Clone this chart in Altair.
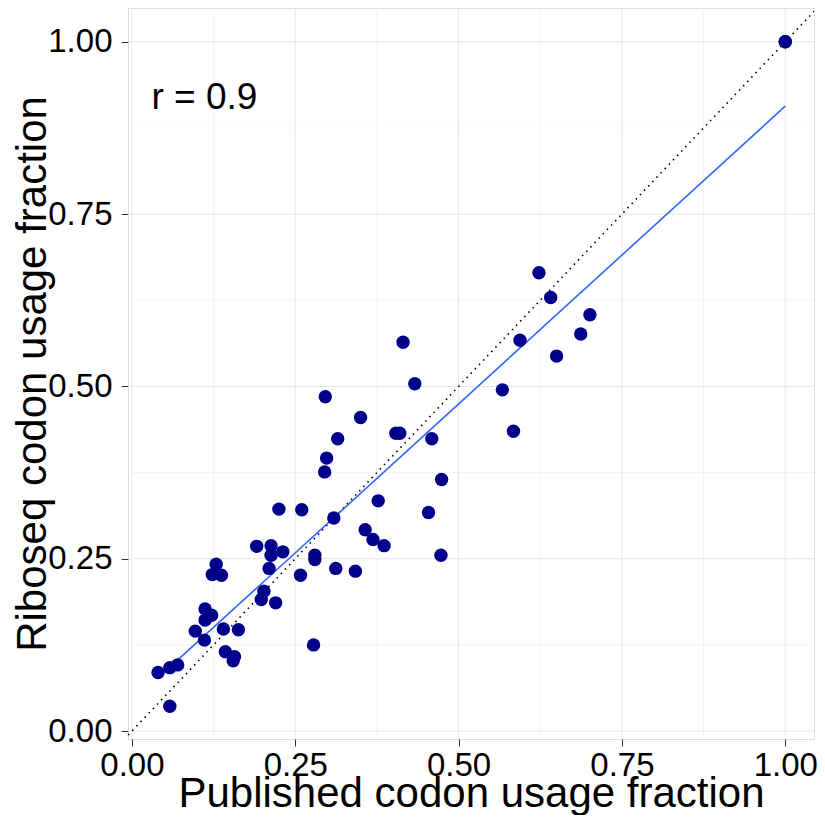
import altair as alt
import pandas as pd

published = [0.040, 0.058, 0.070, 0.058, 0.097, 0.111, 0.112, 0.112, 0.122, 0.123,
             0.129, 0.137, 0.140, 0.143, 0.155, 0.157, 0.163, 0.191, 0.198, 0.202,
             0.210, 0.213, 0.213, 0.220, 0.225, 0.231, 0.258, 0.260, 0.278, 0.280,
             0.280, 0.295, 0.298, 0.296, 0.309, 0.312, 0.315, 0.342, 0.350, 0.357,
             0.369, 0.377, 0.386, 0.404, 0.410, 0.415, 0.433, 0.454, 0.459, 0.474,
             0.473, 0.567, 0.584, 0.594, 0.623, 0.641, 0.650, 0.687, 0.701, 1.000,
             1.000]
riboseq = [0.085, 0.092, 0.096, 0.036, 0.145, 0.132, 0.161, 0.177, 0.168, 0.227,
           0.242, 0.226, 0.148, 0.115, 0.102, 0.108, 0.147, 0.268, 0.191, 0.203,
           0.236, 0.255, 0.269, 0.186, 0.322, 0.260, 0.226, 0.321, 0.125, 0.255,
           0.249, 0.376, 0.396, 0.485, 0.309, 0.236, 0.424, 0.232, 0.455, 0.292,
           0.278, 0.334, 0.269, 0.432, 0.432, 0.564, 0.504, 0.317, 0.424, 0.365,
           0.255, 0.495, 0.435, 0.567, 0.665, 0.629, 0.544, 0.576, 0.604, 1.000,
           1.000]

major_ticks = [0, 0.25, 0.5, 0.75, 1.0]
minor_ticks = [0.125, 0.375, 0.625, 0.875]
identity_line = [-0.05, 1.1]
annotation = "r = 0.9"
annotation_pos = (0.03, 0.903)

FONT = "Liberation Sans"
W, H = 686, 731

df = pd.DataFrame({"published": published, "riboseq": riboseq})
diag = pd.DataFrame({"a": identity_line, "b": identity_line})
lab = pd.DataFrame({"x": [annotation_pos[0]], "y": [annotation_pos[1]], "t": [annotation]})
major_df = pd.DataFrame({"g": major_ticks})
minor_df = pd.DataFrame({"g": minor_ticks})


def make_axis(orient):
    common = dict(
        values=major_ticks,
        format=".2f",
        grid=False,
        tickColor="#333333",
        tickSize=7,
        tickWidth=1,
        domain=False,
        labelFont=FONT,
        labelFontSize=33,
        labelColor="#000000",
        titleFont=FONT,
        titleFontSize=42,
        titleFontWeight="normal",
        titleColor="#000000",
        labelFlush=False,
        labelOverlap=False,
    )
    if orient == "bottom":
        return alt.Axis(**common, title="Published codon usage fraction",
                        labelBaseline="alphabetic", labelPadding=29,
                        titleBaseline="alphabetic", titleY=67, titleX=W / 2,
                        titleAlign="center")
    return alt.Axis(**common, title="Riboseq codon usage fraction",
                    labelPadding=9, labelBaseline="middle",
                    titleBaseline="alphabetic", titleX=-83, titleY=H / 2,
                    titleAngle=-90, titleAlign="center")


xscale = alt.Scale(domain=[-0.006, 1.044], nice=False, zero=False)
yscale = alt.Scale(domain=[-0.0115, 1.049], nice=False, zero=False)
XAX = make_axis("bottom")
YAX = make_axis("left")


def grid_layers(frame, color):
    v = alt.Chart(frame).mark_rule(color=color, strokeWidth=1).encode(
        x=alt.X("g:Q", scale=xscale, axis=XAX))
    h = alt.Chart(frame).mark_rule(color=color, strokeWidth=1).encode(
        y=alt.Y("g:Q", scale=yscale, axis=YAX))
    return [v, h]


grids = grid_layers(minor_df, "#f4f4f4") + grid_layers(major_df, "#e6e6e6")

points = alt.Chart(df).mark_circle(size=180, color="#00008B", opacity=1).encode(
    x=alt.X("published:Q", scale=xscale, axis=XAX),
    y=alt.Y("riboseq:Q", scale=yscale, axis=YAX))

diag_line = alt.Chart(diag).mark_line(color="#000000", strokeDash=[1.5, 4.5], strokeWidth=1.6, clip=True).encode(
    x=alt.X("a:Q", scale=xscale, axis=XAX), y=alt.Y("b:Q", scale=yscale, axis=YAX))

reg = alt.Chart(df).transform_regression("published", "riboseq").mark_line(
    color="#3366FF", strokeWidth=1.6).encode(
    x=alt.X("published:Q", scale=xscale, axis=XAX), y=alt.Y("riboseq:Q", scale=yscale, axis=YAX))

text = alt.Chart(lab).mark_text(align="left", baseline="alphabetic", font=FONT, fontSize=37, color="#000000").encode(
    x=alt.X("x:Q", scale=xscale, axis=XAX), y=alt.Y("y:Q", scale=yscale, axis=YAX), text="t:N")

chart = alt.layer(*grids, diag_line, reg, points, text).properties(
    width=W, height=H,
    autosize=alt.AutoSizeParams(type="none"),
    padding={"left": 120, "top": 0, "right": 3, "bottom": 76},
).configure_view(stroke="#6e6e6e", strokeWidth=1.2).configure(background="white")

chart.save("out.html", embed_options={"renderer": "svg", "actions": False})
